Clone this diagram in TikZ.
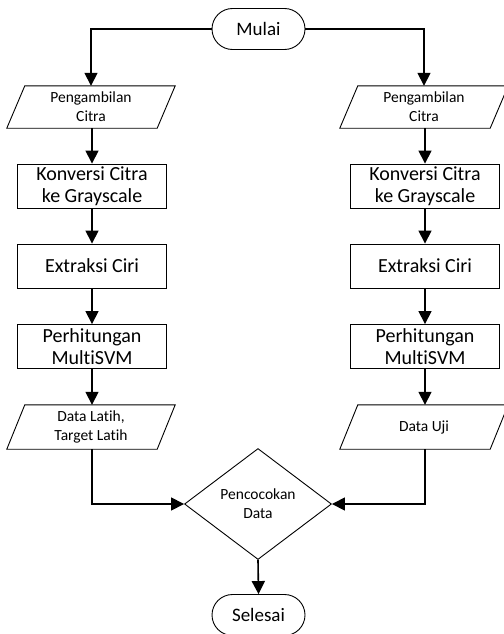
\documentclass[tikz,border=0pt]{standalone}
\usepackage{fontspec}
\setmainfont{Carlito}[Ligatures={NoCommon}]
\usetikzlibrary{shapes.geometric,shapes.misc,arrows.meta}
\begin{document}
\begin{tikzpicture}[x=1pt,y=-1pt,
  term/.style={rounded rectangle, draw, line width=0.9pt, minimum width=93pt, minimum height=41pt, inner sep=0pt, font=\fontsize{19}{22}\selectfont},
  procbox/.style={rectangle, draw, line width=0.9pt, minimum width=149pt, minimum height=44pt, inner sep=0pt, align=center, font=\fontsize{20}{22}\selectfont},
  iobox/.style={rectangle, minimum width=150pt, minimum height=42pt, inner sep=0pt, align=center, font=\fontsize{15.5}{19}\selectfont},
  decbox/.style={diamond, draw, line width=0.9pt, minimum width=147pt, minimum height=111pt, inner sep=0pt, align=center, font=\fontsize{15.5}{19}\selectfont},
  conn/.style={line width=1.6pt, -{Triangle[length=13pt,width=13pt]}}]
\useasboundingbox (0,0) rectangle (503,634);
\node[term] (start) at (258.5,29) {Mulai};
\node[iobox] (pL) at (91,107) {Pengambilan\\Citra};
\node[iobox] (pR) at (424,107) {Pengambilan\\Citra};
\node[procbox] (kL) at (92,186) {Konversi Citra\\ke Grayscale};
\node[procbox] (kR) at (425,186) {Konversi Citra\\ke Grayscale};
\node[procbox] (eL) at (92,266) {Extraksi Ciri};
\node[procbox] (eR) at (425,266) {Extraksi Ciri};
\node[procbox] (hL) at (92,346.5) {Perhitungan\\MultiSVM};
\node[procbox] (hR) at (425,346.5) {Perhitungan\\MultiSVM};
\node[iobox, minimum height=44pt] (dL) at (91,427) {Data Latih,\\Target Latih};
\node[iobox, minimum height=44pt] (dR) at (424,427) {Data Uji};
\node[decbox] (dec) at (258,504) {Pencocokan\\Data};
\node[term] (end) at (258.5,615) {Selesai};
\foreach \n in {pL,pR,dL,dR}{
  \draw[line width=0.9pt] ([xshift=9pt]\n.north west) -- ([xshift=9pt]\n.north east) -- ([xshift=-9pt]\n.south east) -- ([xshift=-9pt]\n.south west) -- cycle;
}
\draw[conn] (start.west) -| (pL.north);
\draw[conn] (start.east) -| (pR.north);
\draw[conn] (pL.south -| kL.north) -- (kL.north);
\draw[conn] (kL) -- (eL);
\draw[conn] (eL) -- (hL);
\draw[conn] (hL.south) -- (hL.south |- dL.north);
\draw[conn] (pR.south -| kR.north) -- (kR.north);
\draw[conn] (kR) -- (eR);
\draw[conn] (eR) -- (hR);
\draw[conn] (hR.south) -- (hR.south |- dR.north);
\draw[conn] (dL.south -| hL.south) |- (dec.west);
\draw[conn] (dR.south -| hR.south) |- (dec.east);
\draw[conn] (dec.south) -- (end.north);
\end{tikzpicture}
\end{document}
